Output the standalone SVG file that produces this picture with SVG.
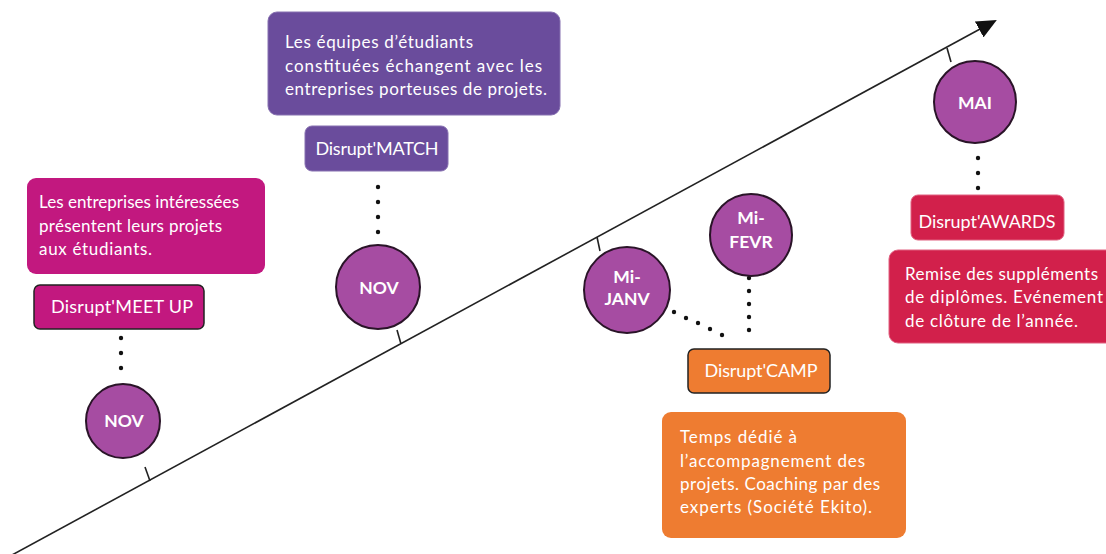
<svg xmlns="http://www.w3.org/2000/svg" width="1106" height="554" viewBox="0 0 1106 554">
<style>
text{font-family:"Lato","Noto Sans",sans-serif;fill:#fff}
.d{font-size:17px}
.l{font-size:18px;text-anchor:middle}
.c{font-size:17.5px;font-weight:bold;text-anchor:middle}
.circ{fill:#A64CA2;stroke:#2a1428;stroke-width:2}
.mag{fill:#C2187F}
.pur{fill:#6A4C9C;stroke:#8670B0;stroke-width:1}
.ora{fill:#EE7C31}
.red{fill:#D2204B;stroke:#e06080;stroke-width:1}
.blk{stroke:#222;stroke-width:1.5}
.dot{fill:#111}
.axis{stroke:#222;stroke-width:1.6;fill:none}
</style>
<defs>
<marker id="arr" markerUnits="userSpaceOnUse" viewBox="0 0 20 18" refX="2" refY="9" markerWidth="20" markerHeight="18" orient="auto">
<path d="M0,0 L20,9 L0,18 z" fill="#111"/>
</marker>
</defs>
<rect width="1106" height="554" fill="#fff"/>

<g id="connectors">
<line class="axis" x1="12" y1="555" x2="981" y2="28.5" marker-end="url(#arr)"/>
<line class="axis" x1="150" y1="481" x2="145" y2="467"/>
<line class="axis" x1="401" y1="344" x2="397" y2="330"/>
<line class="axis" x1="597" y1="237" x2="600" y2="251"/>
<line class="axis" x1="947" y1="48" x2="951" y2="62"/>
<g class="dot">
<circle cx="121" cy="338" r="2.2"/><circle cx="121" cy="353" r="2.2"/><circle cx="121" cy="368" r="2.2"/>
<circle cx="378" cy="187" r="2.2"/><circle cx="378" cy="202" r="2.2"/><circle cx="378" cy="217" r="2.2"/><circle cx="378" cy="232" r="2.2"/>
<circle cx="674" cy="312" r="2.2"/><circle cx="686" cy="318" r="2.2"/><circle cx="698" cy="323" r="2.2"/><circle cx="710" cy="329" r="2.2"/><circle cx="722" cy="335" r="2.2"/>
<circle cx="749" cy="278" r="2.2"/><circle cx="749" cy="291" r="2.2"/><circle cx="749" cy="304" r="2.2"/><circle cx="749" cy="317" r="2.2"/><circle cx="749" cy="330" r="2.2"/>
<circle cx="978" cy="158" r="2.2"/><circle cx="978" cy="173" r="2.2"/><circle cx="978" cy="188" r="2.2"/>
</g>
</g>

<g id="meetup-desc">
<rect class="mag" x="27" y="178" width="238" height="96" rx="9"/>
<text class="d" x="39" y="208" textLength="200">Les entreprises intéressées</text>
<text class="d" x="39" y="232" textLength="183">présentent leurs projets</text>
<text class="d" x="39" y="255" textLength="113">aux étudiants.</text>
</g>
<g id="meetup">
<rect class="mag blk" x="34" y="285" width="170" height="44" rx="6"/>
<text class="l" x="122" y="313" textLength="142">Disrupt'MEET UP</text>
</g>
<g id="nov1">
<circle class="circ" cx="123" cy="421" r="37"/>
<text class="c" x="124" y="427">NOV</text>
</g>

<g id="match-desc">
<rect class="pur" x="268" y="12" width="292" height="103" rx="9"/>
<text class="d" x="285" y="48" textLength="188">Les équipes d’étudiants</text>
<text class="d" x="285" y="72" textLength="257">constituées échangent avec les</text>
<text class="d" x="285" y="95" textLength="262">entreprises porteuses de projets.</text>
</g>
<g id="match">
<rect class="pur" x="305" y="126" width="143" height="45" rx="7"/>
<text class="l" x="377" y="155" textLength="123">Disrupt'MATCH</text>
</g>
<g id="nov2">
<circle class="circ" cx="378" cy="287" r="42"/>
<text class="c" x="379" y="294">NOV</text>
</g>

<g id="mijanv">
<circle class="circ" cx="627" cy="290" r="43"/>
<text class="c" x="627" y="283">Mi-</text>
<text class="c" x="627" y="305">JANV</text>
</g>
<g id="mifevr">
<circle class="circ" cx="751" cy="235" r="41"/>
<text class="c" x="751" y="224">Mi-</text>
<text class="c" x="751" y="248">FEVR</text>
</g>
<g id="camp">
<rect class="ora blk" x="688" y="349" width="142" height="44" rx="6"/>
<text class="l" x="761" y="377" textLength="113">Disrupt'CAMP</text>
</g>
<g id="camp-desc">
<rect class="ora" x="662" y="412" width="244" height="126" rx="9"/>
<text class="d" x="680" y="443" textLength="117">Temps dédié à</text>
<text class="d" x="680" y="467" textLength="185">l’accompagnement des</text>
<text class="d" x="680" y="490" textLength="200">projets. Coaching par des</text>
<text class="d" x="680" y="513" textLength="192">experts (Société Ekito).</text>
</g>

<g id="mai">
<circle class="circ" cx="975" cy="102" r="41"/>
<text class="c" x="975" y="109">MAI</text>
</g>
<g id="awards">
<rect class="red" x="911" y="195" width="153" height="45" rx="7"/>
<text class="l" x="987" y="228" textLength="137">Disrupt'AWARDS</text>
</g>
<g id="awards-desc">
<rect class="red" x="889" y="250" width="230" height="93" rx="9"/>
<text class="d" x="905" y="280" textLength="193">Remise des suppléments</text>
<text class="d" x="905" y="303" textLength="198">de diplômes. Evénement</text>
<text class="d" x="905" y="327" textLength="173">de clôture de l’année.</text>
</g>
</svg>
